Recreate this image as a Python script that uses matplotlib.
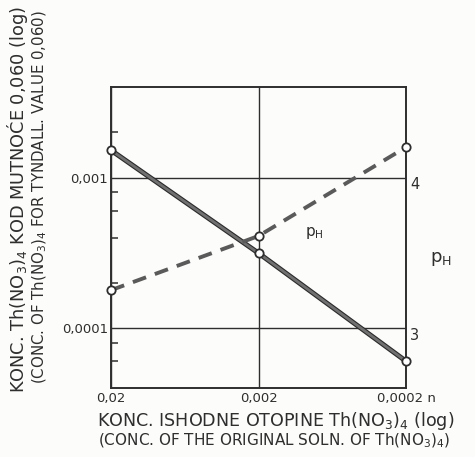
import matplotlib
matplotlib.use('Agg')
import matplotlib.pyplot as plt
import matplotlib.patheffects as pe

# values
conc = [0.02, 0.002, 0.0002]                  # conc. of original soln. Th(NO3)4, n
conc_tyndall = [0.00152, 0.000315, 0.0000603]  # conc. for Tyndall value 0,060
ph = [3.25, 3.61, 4.20]

x_ticks = [0.02, 0.002, 0.0002]
x_ticklabels = ['0,02', '0,002', '0,0002 n']
y_ticks = [0.001, 0.0001]
y_ticklabels = ['0,001', '0,0001']
y_minor = [0.002, 0.0008, 0.0006, 0.0004, 0.0002, 0.00008, 0.00006]
ph_ticks = [3, 4]

ink = '#2e2e2e'
plt.rcParams['font.family'] = ['DejaVu Sans']
plt.rcParams['mathtext.default'] = 'regular'

W, H = 475, 457
fig = plt.figure(figsize=(W / 100, H / 100), dpi=100)
fig.patch.set_facecolor('#fcfcfa')
ax = fig.add_axes([111 / W, 1 - 388 / H, 295 / W, 301 / H])
ax.set_facecolor('none')

ax.set_xscale('log')
ax.set_yscale('log')
ax.set_xlim(0.02, 0.0002)
ax.set_ylim(0.00004, 0.004)

ax.set_xticks(x_ticks)
ax.set_xticklabels(x_ticklabels)
ax.xaxis.set_minor_locator(matplotlib.ticker.NullLocator())
ax.set_yticks(y_ticks)
ax.set_yticklabels(y_ticklabels)
ax.set_yticks(y_minor, minor=True)
ax.tick_params(axis='x', length=0, pad=3, labelsize=9.5, colors=ink)
ax.tick_params(axis='y', which='major', length=0, pad=2, labelsize=9.5, colors=ink)
ax.tick_params(axis='y', which='minor', direction='in', length=5, width=1.1, color=ink)
ax.yaxis.set_minor_formatter(matplotlib.ticker.NullFormatter())
ax.grid(True, which='major', color=ink, lw=1.0)
for s in ax.spines.values():
    s.set_color(ink)
    s.set_linewidth(1.4)

ax2 = ax.twinx()
ax2.set_ylim(2.6, 4.6)
ax2.set_yticks(ph_ticks)
ax2.set_yticklabels([str(t) for t in ph_ticks])
ax2.tick_params(axis='y', length=0, pad=3, labelsize=10.5, colors=ink)
for lab in ax2.get_yticklabels():
    lab.set_verticalalignment('top')
for s in ax2.spines.values():
    s.set_visible(False)

# solid line: conc. for Tyndall value
ax.plot(conc, conc_tyndall, color='#707070', lw=2.0, solid_capstyle='butt', zorder=3,
        path_effects=[pe.Stroke(linewidth=3.6, foreground='#2a2a2a'), pe.Normal()])
ax.plot(conc, conc_tyndall, 'o', ms=6, mfc='white', mec=ink, mew=1.3, zorder=5, clip_on=False)

# dashed line: pH
ax2.plot(conc, ph, color='#5a5a5a', lw=2.8, dashes=(3.6, 2.4), zorder=3)
ax2.plot(conc, ph, 'o', ms=6, mfc='white', mec=ink, mew=1.3, zorder=5, clip_on=False)

ax2.text(0.69, 0.515, 'p$_H$', transform=ax2.transAxes, fontsize=11, color=ink,
         ha='center', va='center')
ax2.text(1.12, 0.43, 'p$_H$', transform=ax2.transAxes, fontsize=13, color=ink,
         ha='center', va='center')

fig.text(97 / W, 1 - 421 / H, 'KONC. ISHODNE OTOPINE Th(NO$_3$)$_4$ (log)',
         fontsize=12.6, color=ink, ha='left', va='center')
fig.text(98 / W, 1 - 441 / H, '(CONC. OF THE ORIGINAL SOLN. OF Th(NO$_3$)$_4$)',
         fontsize=11, color=ink, ha='left', va='center')
fig.text(18 / W, 1 - 200 / H, 'KONC. Th(NO$_3$)$_4$ KOD MUTNOĆE 0,060 (log)',
         fontsize=12.8, color=ink, rotation=90, ha='center', va='center')
fig.text(40 / W, 1 - 197 / H, '(CONC. OF Th(NO$_3$)$_4$ FOR TYNDALL. VALUE 0,060)',
         fontsize=10.8, color=ink, rotation=90, ha='center', va='center')

fig.savefig('out.png', dpi=100, facecolor=fig.get_facecolor())
